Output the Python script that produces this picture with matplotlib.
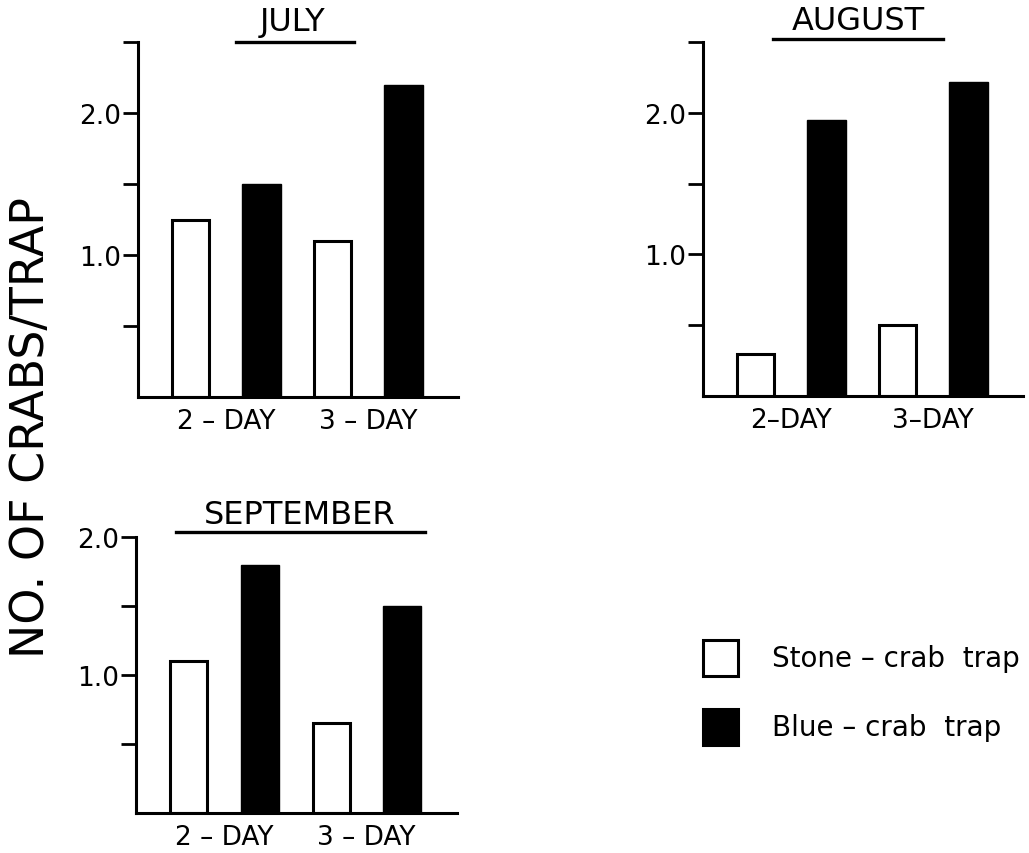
import matplotlib.pyplot as plt
from matplotlib.patches import Rectangle
import numpy as np

# mean catch per trap, by soak time (2-day, 3-day)
periods = ['2 – DAY', '3 – DAY']
july_stone = [1.25, 1.10]
july_blue = [1.50, 2.20]
aug_stone = [0.30, 0.50]
aug_blue = [1.95, 2.22]
sept_stone = [1.10, 0.65]
sept_blue = [1.80, 1.50]
trap_names = ['Stone – crab  trap', 'Blue – crab  trap']

W, H = 1029, 854
plt.rcParams['font.family'] = 'DejaVu Sans'

fig = plt.figure(figsize=(W / 100, H / 100), dpi=100, facecolor='white')


def px_rect(left, top, right, bottom):
    return [left / W, 1 - bottom / H, (right - left) / W, (bottom - top) / H]


def panel(rect, title, stone, blue, ymax, title_pos, line_span, labels):
    ax = fig.add_axes(px_rect(*rect))
    x = np.array([0.5, 2.5])
    ax.bar(x - 0.5, stone, width=0.52, facecolor='white', edgecolor='black', linewidth=2.2)
    ax.bar(x + 0.5, blue, width=0.54, color='black', edgecolor='black', linewidth=1)
    ax.set_xlim(-0.74, 3.77)
    ax.set_ylim(0, ymax)
    ax.spines['top'].set_visible(False)
    ax.spines['right'].set_visible(False)
    for side in ['left', 'bottom']:
        ax.spines[side].set_linewidth(2.2)
    yt = np.arange(0.5, ymax + 0.01, 0.5)
    ax.set_yticks(yt)
    ax.set_yticklabels(['%.1f' % v if v in (1.0, 2.0) else '' for v in yt])
    ax.tick_params(axis='y', length=11, width=2, direction='out', pad=1, labelsize=19)
    ax.set_xticks(x)
    ax.set_xticklabels(labels)
    ax.tick_params(axis='x', length=0, pad=8, labelsize=19)
    # month name sits on an underline level with the top of the y axis
    ax.text(title_pos[0], title_pos[1], title, transform=ax.transAxes,
            ha='center', va='baseline', fontsize=23)
    ax.plot(line_span, [title_pos[2], title_pos[2]], transform=ax.transAxes,
            color='black', lw=2.4, clip_on=False)
    return ax


panel((138, 43, 458, 398), 'JULY', july_stone, july_blue, 2.5,
      (0.484, 1.034, 1.0), [0.306, 0.675], periods)
panel((703, 43, 1023, 397), 'AUGUST', aug_stone, aug_blue, 2.5,
      (0.484, 1.038, 1.008), [0.219, 0.75], ['2–DAY', '3–DAY'])
panel((136, 538, 457, 814), 'SEPTEMBER', sept_stone, sept_blue, 2.0,
      (0.51, 1.05, 1.018), [0.125, 0.90], periods)

fig.text(32 / W, 1 - 428 / H, 'NO. OF CRABS/TRAP', rotation=90,
         ha='center', va='center', fontsize=33)

# key: open box = stone-crab trap, filled box = blue-crab trap
key_tops = [641, 710]
key_faces = ['white', 'black']
for top, face, name in zip(key_tops, key_faces, trap_names):
    fig.patches.append(Rectangle((703 / W, 1 - (top + 36) / H), 35 / W, 36 / H,
                                 transform=fig.transFigure, facecolor=face,
                                 edgecolor='black', linewidth=2.2))
    fig.text(772 / W, 1 - (top + 18) / H, name, ha='left', va='center', fontsize=20)

fig.savefig('out.png', dpi=100, facecolor='white')
